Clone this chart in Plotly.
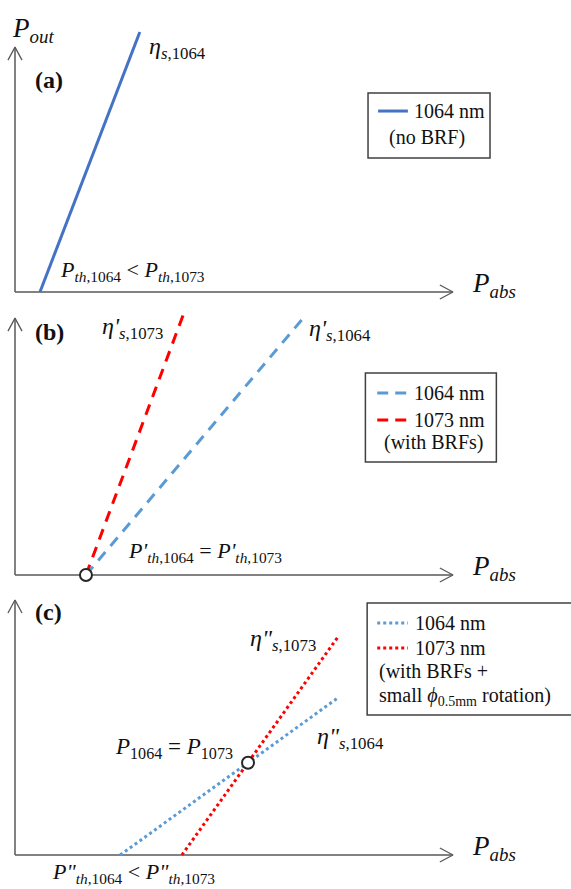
import plotly.graph_objects as go

# ---------------- data (arbitrary schematic units: P_abs, P_out) ----------------
wavelengths = ["1064 nm", "1073 nm"]
colors_a = ["#4472C4"]
colors_bc = ["#5B9BD5", "#FF0000"]

# (a) no BRF
a_pabs = [0.57, 2.85]
a_pout = [0.0, 10.0]
# (b) with BRFs
b_pabs_1064 = [1.62, 6.62]
b_pout_1064 = [0.0, 9.96]
b_pabs_1073 = [1.62, 3.84]
b_pout_1073 = [0.0, 10.0]
b_equal_x = [1.62]
b_equal_y = [0.0]
# (c) with BRFs + small rotation
c_pabs_1064 = [2.40, 7.37]
c_pout_1064 = [0.0, 6.04]
c_pabs_1073 = [3.81, 7.37]
c_pout_1073 = [0.0, 8.38]
c_equal_x = [5.32]
c_equal_y = [3.55]

# ---------------- layout geometry ----------------
W, H = 571, 889
PXX, PXY = 43.8, 26.0          # pixels per unit
X0 = 15                         # pixel of y-axis
bands = [(0, 300, 292), (300, 585, 575), (585, 889, 855)]  # top, bottom, origin(px)
XLEN = 10.0
YTOP = [9.42, 9.88, 9.81]

FONT = "Liberation Serif, Times New Roman, Times, DejaVu Serif, serif"
AXC = "#595959"

fig = go.Figure()
layout = dict(width=W, height=H, margin=dict(l=0, r=0, t=0, b=0),
              paper_bgcolor="white", plot_bgcolor="white", showlegend=False,
              font=dict(family=FONT))
for i, (top, bot, org) in enumerate(bands):
    s = "" if i == 0 else str(i + 1)
    layout["xaxis" + s] = dict(domain=[0, 1], range=[-X0 / PXX, (W - X0) / PXX],
                               visible=False, fixedrange=True,
                               anchor="y" + s)
    layout["yaxis" + s] = dict(domain=[1 - bot / H, 1 - top / H],
                               range=[-(bot - org) / PXY, (org - top) / PXY],
                               visible=False, fixedrange=True, anchor="x" + s)
fig.update_layout(**layout)


def ax(i):
    s = "" if i == 0 else str(i + 1)
    return "x" + s, "y" + s


def line(i, x, y, color, width, dash="solid"):
    xr, yr = ax(i)
    fig.add_trace(go.Scatter(x=x, y=y, mode="lines", xaxis=xr, yaxis=yr,
                             line=dict(color=color, width=width, dash=dash),
                             hoverinfo="skip", cliponaxis=False))


def text(i, x, y, t, size=20, xanchor="left"):
    xr, yr = ax(i)
    fig.add_annotation(x=x, y=y, xref=xr, yref=yr, text=t, showarrow=False,
                       xanchor=xanchor, yanchor="middle",
                       font=dict(family=FONT, size=size, color="#111111"))


def box(i, x0, x1, y0, y1):
    xr, yr = ax(i)
    fig.add_shape(type="rect", xref=xr, yref=yr, x0=x0, x1=x1, y0=y0, y1=y1,
                  line=dict(color="#404040", width=1.5), fillcolor="white",
                  layer="below")


# axes with open arrowheads
for i in range(3):
    line(i, [0, XLEN], [0, 0], AXC, 1.5)
    line(i, [0, 0], [0, YTOP[i]], AXC, 1.5)
    line(i, [XLEN - 0.3, XLEN, XLEN - 0.3], [0.27, 0, -0.27], AXC, 1.3)
    line(i, [-0.16, 0, 0.16], [YTOP[i] - 0.5, YTOP[i], YTOP[i] - 0.5], AXC, 1.3)
    text(i, 10.39, 0.27, "<i>P</i><sub><i>abs</i></sub>", size=27)

# ---------------- panel (a) ----------------
box(0, 8.06, 10.845, 5.154, 7.654)
line(0, a_pabs, a_pout, colors_a[0], 3)
line(0, [8.29, 8.97], [6.96, 6.96], colors_a[0], 3)
text(0, 9.06, 6.96, wavelengths[0], size=20)
text(0, 8.49, 5.96, "(no BRF)", size=20)
text(0, -0.11, 10.08, "<i>P</i><sub><i>out</i></sub>", size=27)
text(0, 0.41, 8.15, "<b>(a)</b>", size=24)
text(0, 3.01, 9.38, "<i>η</i><sub><i>s</i>,1064</sub>", size=24)
text(0, 0.98, 0.81, "<i>P</i><sub><i>th</i>,1064</sub> &lt; <i>P</i><sub><i>th</i>,1073</sub>", size=22)

# ---------------- panel (b) ----------------
box(1, 8.0, 10.99, 4.35, 7.77)
line(1, b_pabs_1064, b_pout_1064, colors_bc[0], 3, "11px,8px")
line(1, b_pabs_1073, b_pout_1073, colors_bc[1], 3, "11px,8px")
line(1, [8.27, 9.0], [7.0, 7.0], colors_bc[0], 3, "11px,7px")
line(1, [8.27, 9.0], [5.96, 5.96], colors_bc[1], 3, "11px,7px")
text(1, 9.06, 7.0, wavelengths[0], size=20)
text(1, 9.06, 5.96, wavelengths[1], size=20)
text(1, 8.38, 5.08, "(with BRFs)", size=20)
xr, yr = ax(1)
fig.add_trace(go.Scatter(x=b_equal_x, y=b_equal_y, mode="markers", xaxis=xr, yaxis=yr,
                         marker=dict(symbol="circle", size=12, color="white",
                                     line=dict(color="#262626", width=2)),
                         cliponaxis=False, hoverinfo="skip"))
text(1, 0.41, 9.35, "<b>(b)</b>", size=24)
text(1, 1.94, 9.5, "<i>η'</i><sub><i>s</i>,1073</sub>", size=24)
text(1, 6.67, 9.42, "<i>η'</i><sub><i>s</i>,1064</sub>", size=24)
text(1, 2.53, 0.88, "<i>P'</i><sub><i>th</i>,1064</sub> = <i>P'</i><sub><i>th</i>,1073</sub>", size=22)

# ---------------- panel (c) ----------------
box(2, 8.04, 13.5, 5.38, 9.69)
line(2, c_pabs_1064, c_pout_1064, colors_bc[0], 3, "3px,3px")
line(2, c_pabs_1073, c_pout_1073, colors_bc[1], 3, "3px,3px")
line(2, [8.27, 8.97], [8.92, 8.92], colors_bc[0], 3, "3px,3px")
line(2, [8.27, 8.97], [7.96, 7.96], colors_bc[1], 3, "3px,3px")
text(2, 9.08, 8.92, wavelengths[0], size=20)
text(2, 9.08, 7.96, wavelengths[1], size=20)
text(2, 8.27, 7.04, "(with BRFs +", size=20)
text(2, 8.27, 6.08, "small <i>ϕ</i><sub>0.5mm</sub> rotation)", size=20)
xr, yr = ax(2)
fig.add_trace(go.Scatter(x=c_equal_x, y=c_equal_y, mode="markers", xaxis=xr, yaxis=yr,
                         marker=dict(symbol="circle", size=12, color="white",
                                     line=dict(color="#262626", width=2)),
                         cliponaxis=False, hoverinfo="skip"))
text(2, 0.41, 9.35, "<b>(c)</b>", size=24)
text(2, 5.32, 8.27, "<i>η\"</i><sub><i>s</i>,1073</sub>", size=24)
text(2, 6.85, 4.5, "<i>η\"</i><sub><i>s</i>,1064</sub>", size=24)
text(2, 2.24, 4.12, "<i>P</i><sub>1064</sub> = <i>P</i><sub>1073</sub>", size=23)
text(2, 0.8, -0.7, "<i>P\"</i><sub><i>th</i>,1064</sub> &lt; <i>P\"</i><sub><i>th</i>,1073</sub>", size=22)

fig.write_html("out.html")
